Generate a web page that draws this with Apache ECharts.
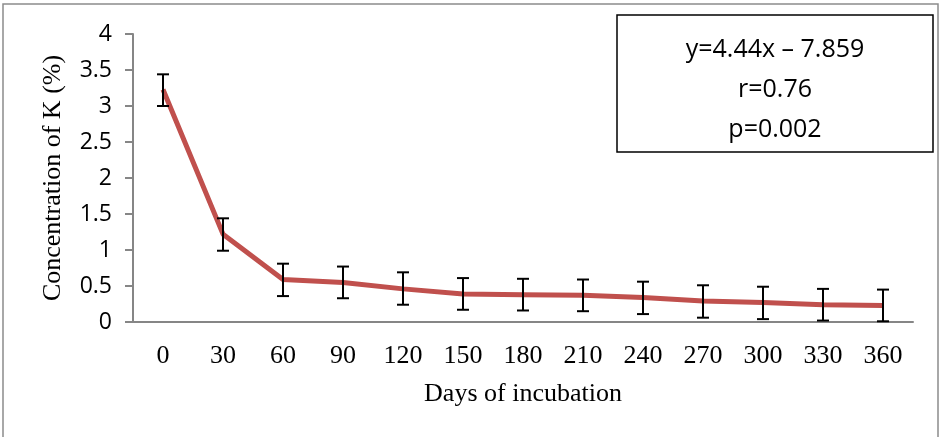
<!DOCTYPE html>
<html><head><meta charset="utf-8">
<script src="https://cdn.jsdelivr.net/npm/echarts@6/dist/echarts.min.js"></script>
<style>html,body{margin:0;padding:0;background:#fff}#c{width:943px;height:437px}</style>
</head><body><div id="c"></div>
<script>
const days = ['0','30','60','90','120','150','180','210','240','270','300','330','360'];
const meanK = [3.23,1.22,0.59,0.55,0.46,0.39,0.38,0.37,0.34,0.29,0.27,0.24,0.23];
const lowerK = [3.00,0.99,0.36,0.33,0.24,0.17,0.16,0.15,0.11,0.06,0.04,0.02,0.01];
const upperK = [3.44,1.44,0.81,0.77,0.69,0.61,0.60,0.59,0.56,0.51,0.49,0.46,0.45];
const yTicks = {min:0, max:4, interval:0.5};
const statLines = ['y=4.44x \u2013 7.859','r=0.76','p=0.002'];

const errData = days.map((d,i)=>[i, lowerK[i], upperK[i]]);
const chart = echarts.init(document.getElementById('c'), null, {renderer:'canvas'});
chart.setOption({
  animation:false,
  backgroundColor:'#fff',
  grid:{left:133, right:30, top:34, bottom:115},
  xAxis:{
    type:'category', data:days, boundaryGap:true,
    name:'Days of incubation', nameLocation:'middle', nameGap:59,
    nameTextStyle:{fontFamily:'Liberation Serif', fontSize:26, color:'#000'},
    axisLine:{lineStyle:{color:'#868686', width:2}},
    axisTick:{show:false},
    axisLabel:{fontFamily:'Liberation Serif', fontSize:26, color:'#000', margin:21}
  },
  yAxis:{
    type:'value', min:yTicks.min, max:yTicks.max, interval:yTicks.interval,
    name:'Concentration of K (%)', nameLocation:'middle', nameGap:67, nameRotate:90,
    nameTextStyle:{fontFamily:'Liberation Serif', fontSize:26, color:'#000'},
    axisLine:{show:true, lineStyle:{color:'#868686', width:2}},
    axisTick:{show:true, length:8, lineStyle:{color:'#868686', width:2}},
    splitLine:{show:false},
    axisLabel:{fontFamily:'Open Sans', fontSize:23, color:'#000', margin:21,
      formatter:v=>String(v)}
  },
  series:[
    {type:'line', data:meanK, symbol:'none', z:2,
     lineStyle:{color:'#C0504D', width:5}},
    {type:'custom', data:errData, z:3,
     renderItem:function(params, api){
       const x = api.value(0);
       const lo = api.coord([x, api.value(1)]);
       const hi = api.coord([x, api.value(2)]);
       const w = 6;
       const st = {stroke:'#000', lineWidth:2};
       return {type:'group', children:[
         {type:'line', shape:{x1:lo[0], y1:lo[1], x2:hi[0], y2:hi[1]}, style:st},
         {type:'line', shape:{x1:lo[0]-w, y1:lo[1], x2:lo[0]+w, y2:lo[1]}, style:st},
         {type:'line', shape:{x1:hi[0]-w, y1:hi[1], x2:hi[0]+w, y2:hi[1]}, style:st}
       ]};
     }}
  ],
  graphic:[
    {type:'rect', shape:{x:3, y:4, width:935, height:440}, style:{fill:'none', stroke:'#8c8c8c', lineWidth:1.5}, silent:true},
    {type:'rect', shape:{x:617, y:15, width:316, height:137}, style:{fill:'#fff', stroke:'#000', lineWidth:1.5}, z:10},
    {type:'text', x:775, y:50, z:11, style:{text:statLines[0], fontFamily:'Open Sans', fontSize:25, fill:'#000', align:'center', verticalAlign:'middle'}},
    {type:'text', x:775, y:90, z:11, style:{text:statLines[1], fontFamily:'Open Sans', fontSize:25, fill:'#000', align:'center', verticalAlign:'middle'}},
    {type:'text', x:775, y:130, z:11, style:{text:statLines[2], fontFamily:'Open Sans', fontSize:25, fill:'#000', align:'center', verticalAlign:'middle'}}
  ]
});
</script></body></html>
